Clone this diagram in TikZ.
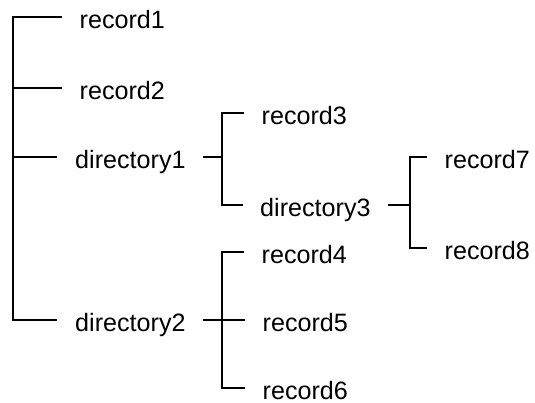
\documentclass[tikz,border=0pt]{standalone}
\usepackage{fontspec}
\setmainfont{Liberation Sans}
\begin{document}
\begin{tikzpicture}[line width=1.4pt,
    entry/.style={anchor=west, inner ysep=0pt, inner xsep=0.33cm,
      text height=0.44cm, text depth=0pt, font=\fontsize{14.3}{17}\selectfont}]
  \useasboundingbox (0,0) rectangle (10.70,-8.04);
  % left column: what sits directly in the root
  \node[entry] (rec1) at (1.24,-0.34) {record1};
  \node[entry] (rec2) at (1.24,-1.76) {record2};
  \node[entry] (dir1) at (1.15,-3.14) {directory1};
  \node[entry] (dir2) at (1.15,-6.40) {directory2};
  % second and third level
  \node[entry] (rec3) at (4.88,-2.26) {record3};
  \node[entry] (dir3) at (4.85,-4.10) {directory3};
  \node[entry] (rec4) at (4.88,-5.04) {record4};
  \node[entry] (rec5) at (4.90,-6.40) {record5};
  \node[entry] (rec6) at (4.90,-7.76) {record6};
  \node[entry] (rec7) at (8.54,-3.14) {record7};
  \node[entry] (rec8) at (8.54,-4.96) {record8};
  % spines of the brackets
  \coordinate (root) at (0.26,0);
  \coordinate (sub) at (4.44,0);
  \coordinate (subsub) at (8.20,0);
  \draw (rec1.west) -- (root |- rec1.west) -- (root |- dir2.west) -- (dir2.west);
  \draw (root |- rec2.west) -- (rec2.west);
  \draw (root |- dir1.west) -- (dir1.west);
  \draw (dir1.east) -- (sub |- dir1.east);
  \draw (rec3.west) -- (sub |- rec3.west) -- (sub |- dir3.west) -- (dir3.west);
  \draw (dir3.east) -- (subsub |- dir3.east);
  \draw (rec7.west) -- (subsub |- rec7.west) -- (subsub |- rec8.west) -- (rec8.west);
  \draw (rec4.west) -- (sub |- rec4.west) -- (sub |- rec6.west) -- (rec6.west);
  \draw (dir2.east) -- (rec5.west);
\end{tikzpicture}
\end{document}
